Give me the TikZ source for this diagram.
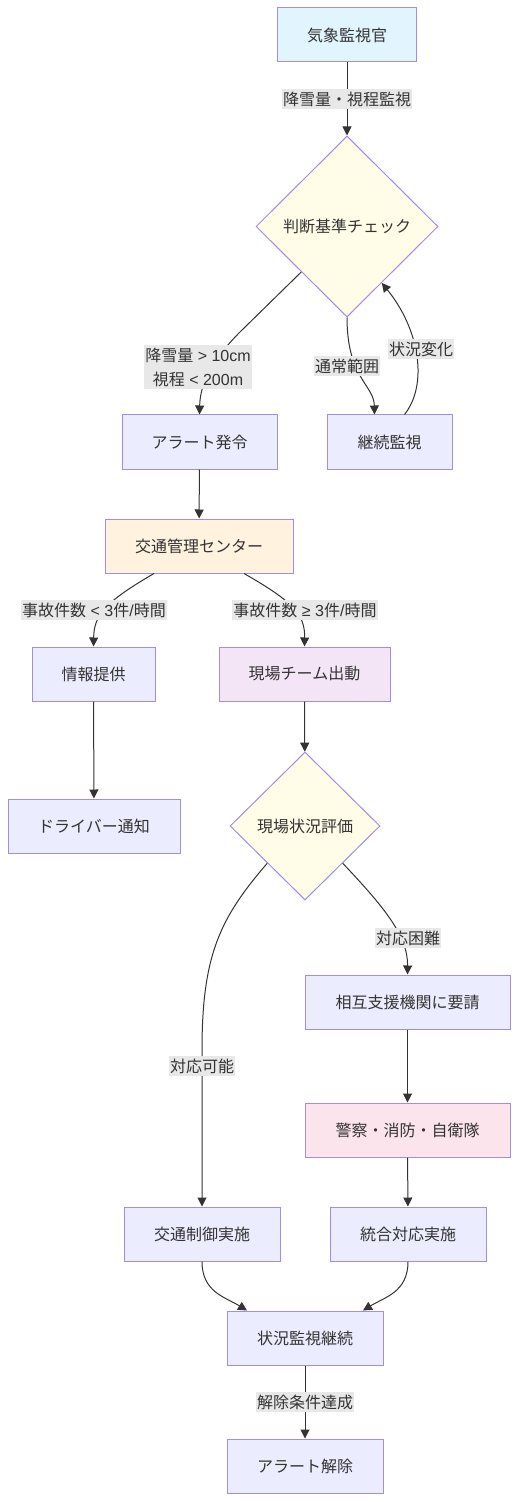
\documentclass[tikz,border=0pt]{standalone}
\usepackage{fontspec}
\setmainfont{Noto Sans CJK JP}
\newfontfamily\latf{Liberation Sans}
\usetikzlibrary{shapes.geometric,arrows.meta,calc}
\definecolor{txt}{HTML}{333333}
\definecolor{nfill}{HTML}{ECECFF}
\definecolor{nstroke}{HTML}{A48CE0}
\definecolor{cblue}{HTML}{E1F5FE}
\definecolor{cyellow}{HTML}{FFFDE7}
\definecolor{corange}{HTML}{FFF3E0}
\definecolor{cpurple}{HTML}{F3E5F5}
\definecolor{cpink}{HTML}{FCE4EC}
\definecolor{lblbg}{HTML}{E8E8E8}
\tikzset{
  box/.style={draw=nstroke, fill=nfill, line width=0.5pt, minimum height=27pt, inner sep=0pt, text=txt, font=\fontsize{8pt}{10pt}\selectfont},
  dia/.style={diamond, aspect=1, draw=nstroke, fill=cyellow, line width=0.5pt, inner sep=0pt, text=txt, font=\fontsize{8pt}{10pt}\selectfont},
  lbl/.style={fill=lblbg, inner xsep=0.5pt, inner ysep=1.2pt, text=txt, font=\fontsize{8pt}{12pt}\selectfont, align=center},
  edge/.style={draw=txt, line width=0.5pt, -{Triangle[length=4.5pt,width=4.5pt]}}
}
\begin{document}
\begin{tikzpicture}[x=0.5pt,y=-0.5pt]
\useasboundingbox (0,0) rectangle (518,1502);
% nodes
\node[box, fill=cblue, minimum width=69.5pt] (wo) at (347,35) {気象監視官};
\node[dia, minimum width=91pt, minimum height=90.5pt] (d1) at (347,226.5) {判断基準チェック};
\node[box, minimum width=77.5pt] (al) at (199.5,442) {アラート発令};
\node[box, minimum width=62.5pt] (cm) at (389.5,442) {継続監視};
\node[box, fill=corange, minimum width=94pt] (tc) at (199,546) {交通管理センター};
\node[box, minimum width=61.5pt] (info) at (93.5,674) {情報提供};
\node[box, fill=cpurple, minimum width=85.5pt] (team) at (304.5,674) {現場チーム出動};
\node[box, minimum width=86pt] (drv) at (94,826) {ドライバー通知};
\node[dia, minimum width=75pt, minimum height=74pt] (d2) at (305,826) {現場状況評価};
\node[box, minimum width=102.5pt] (mut) at (407.5,1002) {相互支援機関に要請};
\node[box, fill=cpink, minimum width=102.5pt] (pol) at (407.5,1130) {警察・消防・自衛隊};
\node[box, minimum width=78pt] (tctl) at (202,1234) {交通制御実施};
\node[box, minimum width=78pt] (intg) at (408,1234) {統合対応実施};
\node[box, minimum width=78pt] (mon) at (305,1338) {状況監視継続};
\node[box, minimum width=78pt] (rel) at (305,1466) {アラート解除};
% edges
\draw[edge] (wo) -- (d1);
\draw[edge] (d1.south west) -- (240,332) .. controls (206,366) and (200,390) .. (al.north);
\draw[edge] (d1.south) .. controls (347,378) and (374,385) .. ($(cm.north)+(-15,0)$);
\draw[edge] ($(cm.north)+(15,0)$) .. controls (428,385) and (420,330) .. ($(d1.east)!0.62!(d1.south)$);
\draw[edge] (al) -- (tc);
\draw[edge] ($(tc.south)+(-45,0)$) .. controls (105,602) and (94,615) .. (info.north);
\draw[edge] ($(tc.south)+(45,0)$) .. controls (294,602) and (305,615) .. (team.north);
\draw[edge] (info) -- (drv);
\draw[edge] (team) -- (d2);
\draw[edge] (d2.south west) .. controls (220,918) and (202,955) .. (202,1050) -- (tctl.north);
\draw[edge] (d2.south east) .. controls (382,905) and (408,935) .. (mut.north);
\draw[edge] (mut) -- (pol);
\draw[edge] (pol) -- (intg);
\draw[edge] (tctl.south) .. controls (202,1292) and (225,1297) .. ($(mon.north)+(-58,0)$);
\draw[edge] (intg.south) .. controls (408,1292) and (385,1297) .. ($(mon.north)+(58,0)$);
\draw[edge] (mon) -- (rel);
% labels
\node[lbl] (l1) at (347,99) {降雪量・視程監視};
\node[lbl] (l2) at (198,367) {降雪量{\latf\ > 10cm}\\視程{\latf\ < 200m}};
\node[lbl] (l3) at (347,366) {通常範囲};
\node[lbl] (l4) at (421,349) {状況変化};
\node[lbl] (l5) at (94,610) {事故件数{\latf\ < 3}件{\latf /}時間};
\node[lbl] (l6) at (305,610) {事故件数{\latf\ ≥ 3}件{\latf /}時間};
\node[lbl] (l7) at (408,938) {対応困難};
\node[lbl] (l8) at (202,1066) {対応可能};
\node[lbl] (l9) at (305,1402) {解除条件達成};
\end{tikzpicture}
\end{document}
